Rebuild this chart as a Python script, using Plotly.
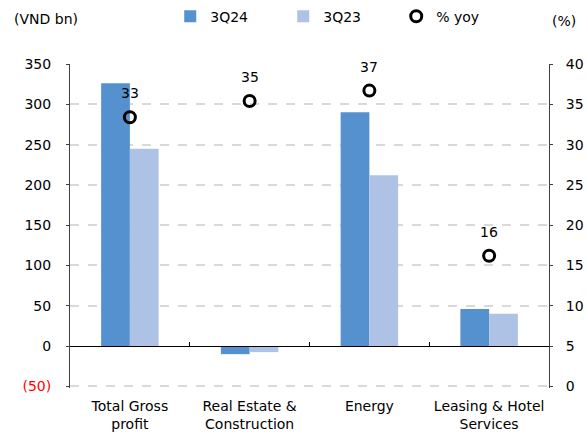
import plotly.graph_objects as go

categories = ["Total Gross<br>profit", "Real Estate &<br>Construction", "Energy", "Leasing & Hotel<br>Services"]
q3_24 = [326, -10, 290, 46]
q3_23 = [245, -7.5, 212, 40]
yoy = [33.4, 35.4, 36.7, 16.2]
yoy_labels = ["33", "35", "37", "16"]
left_ticks = [-50, 0, 50, 100, 150, 200, 250, 300, 350]
left_ticktext = ["<span style='color:red'>(50)</span>", "0", "50", "100", "150", "200", "250", "300", "350"]
right_ticks = [0, 5, 10, 15, 20, 25, 30, 35, 40]
boundaries = [0.5, 1.5, 2.5]

FONT = "'DejaVu Sans', Verdana, sans-serif"

fig = go.Figure()
fig.add_trace(go.Bar(x=categories, y=q3_24, name="3Q24", marker_color="#5591cf", marker_line_width=0))
fig.add_trace(go.Bar(x=categories, y=q3_23, name="3Q23", marker_color="#aec2e6", marker_line_width=0))
fig.add_trace(go.Scatter(x=categories, y=yoy, name="% yoy", mode="markers", yaxis="y2",
                         marker=dict(symbol="circle-open", size=11, color="black", line=dict(width=3, color="black"))))
# empty helper trace so the zero-line axis (x2) is drawn
fig.add_trace(go.Scatter(x=[None], y=[None], xaxis="x2", yaxis="y", showlegend=False,
                         hoverinfo="skip", mode="markers"))

for c, v, t in zip(categories, yoy, yoy_labels):
    fig.add_annotation(x=c, y=v, yref="y2", text=t, showarrow=False, yshift=24,
                       font=dict(size=14, color="black", family=FONT))

fig.add_annotation(x=0, xref="paper", xanchor="left", xshift=-58, y=1, yref="paper", yanchor="middle", yshift=45,
                   text="(VND bn)", showarrow=False, font=dict(size=14, color="black", family=FONT))
fig.add_annotation(x=1, xref="paper", xanchor="left", xshift=1, y=1, yref="paper", yanchor="middle", yshift=43,
                   text="(%)", showarrow=False, font=dict(size=14, color="black", family=FONT))

fig.update_layout(
    width=587, height=437,
    margin=dict(l=70, r=38, t=64, b=49, autoexpand=False),
    paper_bgcolor="white", plot_bgcolor="white",
    font=dict(family=FONT, size=14, color="black"),
    barmode="group", bargap=0.52, bargroupgap=0,
    showlegend=True,
    legend=dict(orientation="h", xref="container", x=0.29, xanchor="left",
                yref="container", y=0.962, yanchor="middle",
                entrywidth=68, entrywidthmode="pixels", font=dict(size=14),
                itemwidth=30, tracegroupgap=0, bgcolor="rgba(0,0,0,0)"),
    xaxis=dict(showline=False, ticks="", showgrid=False, tickfont=dict(size=14), ticklabelstandoff=8,
               automargin=False),
    xaxis2=dict(overlaying="x", anchor="free", position=52 / 402, type="linear", range=[-0.5, 3.5],
                tickvals=boundaries, showticklabels=False, ticks="inside", ticklen=4, tickcolor="black",
                showline=True, linecolor="black", linewidth=1, showgrid=False, zeroline=False, side="bottom",
                automargin=False),
    yaxis=dict(range=[-52, 350], tickvals=left_ticks, ticktext=left_ticktext,
               showline=True, linecolor="#404040", linewidth=1, ticks="outside", ticklen=3, tickcolor="#404040",
               showgrid=True, gridcolor="#d9d9d9", griddash="dash", gridwidth=2,
               zeroline=True, zerolinecolor="black", zerolinewidth=1, ticklabelstandoff=12, automargin=False),
    yaxis2=dict(range=[-0.2, 40], tickvals=right_ticks, overlaying="y", side="right",
                showline=True, linecolor="#404040", linewidth=1, ticks="outside", ticklen=3, tickcolor="#404040",
                showgrid=False, zeroline=False, ticklabelstandoff=10, automargin=False),
)

fig.write_html("out.html")
